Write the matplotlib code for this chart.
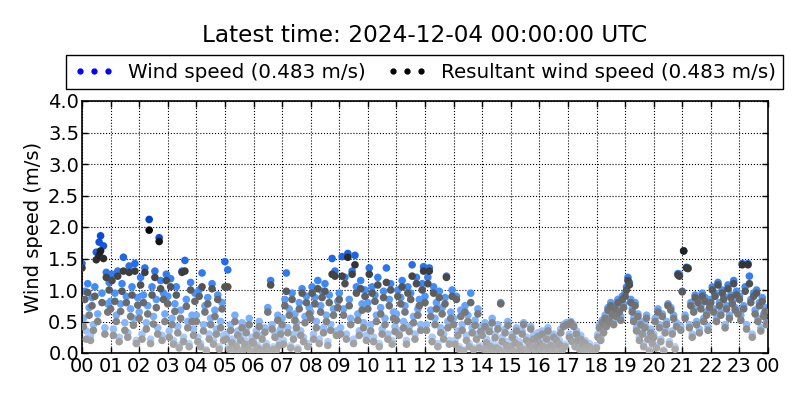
import numpy as np
import matplotlib
matplotlib.use("Agg")
import matplotlib.pyplot as plt
from matplotlib.colors import LinearSegmentedColormap
from matplotlib.lines import Line2D

# Wind speed (m/s), 20 samples per hour (every 3 minutes), hours 00..23, plus final sample at 24:00
wind_speed = [
    1.42, 0.55, 0.98, 0.35, 1.10, 0.72, 0.28, 0.88, 0.45, 1.05, 1.60, 0.62, 1.76, 1.86, 0.95, 1.70, 0.40, 1.28, 0.78, 1.12,
    0.82, 1.25, 0.38, 0.95, 0.60, 1.30, 0.25, 0.78, 1.10, 1.52, 0.48, 0.90, 0.32, 1.38, 0.70, 1.05, 0.55, 1.42, 0.20, 0.88,
    0.65, 1.20, 0.30, 0.92, 1.35, 0.48, 0.75, 2.12, 0.22, 1.05, 0.58, 1.30, 0.85, 0.40, 1.83, 1.15, 0.28, 0.95, 0.62, 1.25,
    0.90, 0.35, 1.18, 0.55, 0.20, 0.78, 1.05, 0.42, 0.12, 0.68, 1.30, 0.25, 1.47, 0.85, 0.50, 0.15, 1.12, 0.60, 0.38, 0.95,
    0.60, 0.25, 1.00, 0.15, 1.27, 0.45, 0.75, 0.05, 0.88, 0.30, 0.55, 1.10, 0.20, 0.68, 0.38, 0.92, 0.10, 0.50, 0.80, 0.28,
    1.45, 0.30, 1.32, 0.10, 0.45, 0.22, 0.05, 0.60, 0.15, 0.35, 0.02, 0.28, 0.48, 0.08, 0.20, 0.40, 0.12, 0.55, 0.03, 0.25,
    0.20, 0.05, 0.35, 0.12, 0.50, 0.02, 0.28, 0.08, 0.40, 0.15, 0.72, 0.03, 1.15, 0.45, 0.10, 0.32, 0.06, 0.60, 0.18, 0.38,
    0.55, 0.20, 0.85, 1.27, 0.40, 0.70, 0.12, 0.95, 0.30, 0.62, 0.48, 0.08, 0.80, 0.35, 1.02, 0.25, 0.58, 0.90, 0.15, 0.72,
    0.65, 1.05, 0.30, 0.88, 0.50, 1.15, 0.22, 0.75, 0.98, 0.40, 1.10, 0.60, 0.18, 0.92, 0.45, 1.50, 0.70, 1.30, 0.35, 0.82,
    0.95, 0.40, 1.53, 0.70, 1.20, 0.30, 1.58, 0.85, 0.55, 1.30, 0.22, 1.55, 1.05, 0.62, 0.35, 1.15, 0.78, 0.48, 1.00, 0.28,
    0.80, 1.35, 0.45, 1.05, 0.25, 0.92, 0.60, 1.20, 0.15, 0.72, 0.38, 0.98, 0.55, 1.35, 0.30, 0.85, 1.10, 0.20, 0.65, 0.42,
    0.62, 1.00, 0.35, 0.88, 1.15, 0.50, 0.75, 0.20, 1.05, 0.42, 0.95, 1.40, 0.58, 0.30, 1.20, 0.70, 0.85, 0.45, 1.10, 1.37,
    0.90, 0.45, 1.20, 1.35, 0.68, 0.25, 1.05, 0.55, 0.80, 0.15, 0.98, 0.40, 0.72, 0.30, 0.88, 1.22, 0.50, 0.20, 0.65, 1.00,
    0.55, 0.20, 0.90, 0.35, 0.10, 0.68, 0.45, 0.05, 0.75, 0.28, 0.60, 0.15, 0.95, 0.40, 0.08, 0.52, 0.30, 0.70, 0.12, 0.42,
    0.35, 0.10, 0.48, 0.22, 0.05, 0.40, 0.15, 0.55, 0.02, 0.30, 0.12, 0.45, 0.08, 0.80, 0.25, 0.03, 0.38, 0.18, 0.50, 0.06,
    0.15, 0.30, 0.05, 0.22, 0.40, 0.02, 0.18, 0.10, 0.35, 0.48, 0.08, 0.25, 0.03, 0.20, 0.42, 0.12, 0.28, 0.06, 0.16, 0.32,
    0.22, 0.08, 0.35, 0.15, 0.02, 0.28, 0.40, 0.10, 0.18, 0.05, 0.30, 0.12, 0.25, 0.03, 0.20, 0.38, 0.06, 0.45, 0.14, 0.48,
    0.48, 0.30, 0.50, 0.22, 0.45, 0.15, 0.35, 0.25, 0.10, 0.28, 0.18, 0.08, 0.20, 0.12, 0.05, 0.15, 0.03, 0.08, 0.02, 0.05,
    0.12, 0.30, 0.45, 0.25, 0.52, 0.38, 0.60, 0.48, 0.72, 0.55, 0.80, 0.65, 0.50, 0.75, 0.62, 0.85, 0.70, 0.58, 0.90, 0.78,
    0.95, 1.05, 1.20, 1.12, 0.85, 0.70, 0.55, 0.80, 0.40, 0.62, 0.25, 0.50, 0.35, 0.15, 0.45, 0.60, 0.28, 0.05, 0.38, 0.20,
    0.30, 0.55, 0.12, 0.70, 0.45, 0.22, 0.62, 0.05, 0.38, 0.50, 0.78, 0.18, 0.72, 0.35, 0.60, 0.10, 0.48, 1.26, 1.25, 0.42,
    0.98, 1.62, 0.60, 1.36, 1.35, 0.45, 0.80, 0.30, 0.70, 0.92, 0.50, 0.85, 0.38, 0.75, 0.95, 0.55, 0.88, 0.65, 0.42, 0.78,
    0.85, 1.05, 0.70, 0.95, 0.55, 1.12, 0.80, 0.65, 1.00, 0.90, 0.45, 0.75, 1.08, 0.60, 0.92, 0.82, 1.15, 0.72, 0.98, 0.68,
    0.90, 0.60, 1.42, 0.75, 1.05, 0.45, 1.42, 1.22, 0.85, 0.30, 0.95, 0.68, 1.00, 0.55, 0.80, 0.40, 0.88, 0.62, 0.72, 0.50,
    0.483,
]

# Resultant wind speed (m/s), same sampling
resultant_speed = [
    1.35, 0.42, 0.85, 0.22, 0.96, 0.60, 0.20, 0.75, 0.36, 0.90, 1.48, 0.50, 1.55, 1.62, 0.80, 1.50, 0.30, 1.20, 0.65, 1.00,
    0.70, 1.15, 0.28, 0.82, 0.50, 1.22, 0.18, 0.66, 0.98, 1.30, 0.36, 0.80, 0.25, 1.28, 0.58, 0.92, 0.44, 1.30, 0.15, 0.76,
    0.55, 1.08, 0.22, 0.80, 1.28, 0.38, 0.62, 1.95, 0.15, 0.92, 0.46, 1.20, 0.72, 0.30, 1.77, 1.02, 0.20, 0.85, 0.50, 1.15,
    0.78, 0.25, 1.05, 0.45, 0.14, 0.66, 0.92, 0.32, 0.08, 0.55, 1.28, 0.18, 1.30, 0.74, 0.40, 0.10, 1.00, 0.50, 0.28, 0.82,
    0.50, 0.18, 0.90, 0.10, 1.05, 0.35, 0.65, 0.03, 0.78, 0.22, 0.45, 1.02, 0.14, 0.58, 0.30, 0.85, 0.06, 0.40, 0.70, 0.20,
    1.05, 0.22, 1.05, 0.06, 0.36, 0.16, 0.02, 0.50, 0.10, 0.28, 0.01, 0.20, 0.40, 0.05, 0.14, 0.32, 0.08, 0.45, 0.02, 0.18,
    0.15, 0.03, 0.28, 0.08, 0.42, 0.01, 0.22, 0.05, 0.33, 0.10, 0.65, 0.02, 1.08, 0.38, 0.06, 0.25, 0.04, 0.52, 0.12, 0.30,
    0.45, 0.14, 0.75, 0.98, 0.32, 0.60, 0.08, 0.85, 0.22, 0.52, 0.40, 0.05, 0.70, 0.28, 0.95, 0.18, 0.48, 0.80, 0.10, 0.62,
    0.55, 0.95, 0.22, 0.78, 0.40, 1.02, 0.15, 0.65, 0.88, 0.32, 0.98, 0.50, 0.12, 0.80, 0.36, 1.25, 0.60, 1.22, 0.28, 0.72,
    0.85, 0.30, 1.22, 0.60, 1.10, 0.22, 1.52, 0.75, 0.45, 1.25, 0.15, 1.40, 0.95, 0.52, 0.28, 1.02, 0.68, 0.40, 0.90, 0.20,
    0.70, 1.25, 0.35, 0.95, 0.18, 0.82, 0.50, 1.08, 0.10, 0.62, 0.30, 0.88, 0.45, 1.12, 0.22, 0.75, 1.00, 0.14, 0.55, 0.34,
    0.52, 0.90, 0.28, 0.78, 1.05, 0.40, 0.65, 0.14, 0.95, 0.34, 0.85, 1.22, 0.48, 0.22, 1.10, 0.60, 0.75, 0.36, 1.00, 1.30,
    0.80, 0.36, 1.10, 1.30, 0.58, 0.18, 0.95, 0.45, 0.70, 0.10, 0.88, 0.32, 0.62, 0.22, 0.78, 1.20, 0.40, 0.14, 0.55, 0.90,
    0.45, 0.14, 0.85, 0.28, 0.06, 0.58, 0.36, 0.03, 0.65, 0.20, 0.50, 0.10, 0.80, 0.32, 0.05, 0.44, 0.22, 0.62, 0.08, 0.34,
    0.28, 0.06, 0.42, 0.16, 0.03, 0.34, 0.10, 0.48, 0.01, 0.24, 0.08, 0.38, 0.05, 0.78, 0.18, 0.02, 0.32, 0.12, 0.44, 0.04,
    0.10, 0.25, 0.03, 0.16, 0.35, 0.01, 0.12, 0.06, 0.30, 0.45, 0.05, 0.20, 0.02, 0.14, 0.38, 0.08, 0.22, 0.04, 0.11, 0.26,
    0.16, 0.05, 0.30, 0.10, 0.01, 0.22, 0.35, 0.06, 0.12, 0.03, 0.25, 0.08, 0.20, 0.02, 0.14, 0.32, 0.04, 0.42, 0.10, 0.45,
    0.45, 0.25, 0.48, 0.18, 0.42, 0.10, 0.30, 0.20, 0.06, 0.22, 0.14, 0.05, 0.16, 0.08, 0.03, 0.10, 0.02, 0.05, 0.01, 0.03,
    0.08, 0.25, 0.40, 0.20, 0.48, 0.32, 0.55, 0.42, 0.68, 0.50, 0.75, 0.60, 0.45, 0.70, 0.58, 0.80, 0.65, 0.52, 0.85, 0.72,
    0.90, 1.00, 1.15, 1.08, 0.80, 0.65, 0.50, 0.75, 0.35, 0.58, 0.20, 0.45, 0.30, 0.10, 0.40, 0.55, 0.22, 0.03, 0.32, 0.15,
    0.25, 0.50, 0.08, 0.65, 0.40, 0.18, 0.58, 0.03, 0.32, 0.45, 0.75, 0.14, 0.68, 0.30, 0.55, 0.06, 0.42, 1.24, 1.22, 0.36,
    0.97, 1.62, 0.55, 1.35, 1.34, 0.40, 0.75, 0.25, 0.65, 0.88, 0.45, 0.80, 0.32, 0.70, 0.90, 0.50, 0.82, 0.60, 0.36, 0.72,
    0.80, 1.00, 0.65, 0.90, 0.50, 1.08, 0.75, 0.60, 0.95, 0.85, 0.40, 0.70, 1.02, 0.55, 0.88, 0.78, 1.10, 0.68, 0.92, 0.62,
    0.85, 0.52, 1.40, 0.70, 0.98, 0.38, 1.40, 1.10, 0.80, 0.25, 0.90, 0.62, 0.95, 0.50, 0.75, 0.35, 0.82, 0.58, 0.66, 0.45,
    0.483,
]

samples_per_hour = 20
hour_ticks = list(range(0, 25))
hour_labels = ["%02d" % (h % 24) for h in hour_ticks]
y_ticks = [0.0, 0.5, 1.0, 1.5, 2.0, 2.5, 3.0, 3.5, 4.0]
title_text = "Latest time: 2024-12-04 00:00:00 UTC"
latest_wind = 0.483
latest_resultant = 0.483

times = np.arange(len(wind_speed)) / samples_per_hour

fig = plt.figure(figsize=(8, 4), dpi=100)
ax = fig.add_axes([0.1025, 0.1175, 0.8575, 0.63])

blue_cmap = LinearSegmentedColormap.from_list("b", ["#c8dcff", "#3f8fff", "#0040d0"])
gray_cmap = LinearSegmentedColormap.from_list("g", ["#b0b0b0", "#000000"])

ax.scatter(times, wind_speed, c=wind_speed, cmap=blue_cmap, vmin=0, vmax=2.0,
           s=30, edgecolors="none", zorder=2)
ax.scatter(times, resultant_speed, c=resultant_speed, cmap=gray_cmap, vmin=0, vmax=2.0,
           s=30, edgecolors="none", zorder=3)

ax.set_xlim(0, 24)
ax.set_ylim(0, 4)
ax.set_xticks(hour_ticks)
ax.set_xticklabels(hour_labels)
ax.set_yticks(y_ticks)
ax.set_yticklabels(["%.1f" % v for v in y_ticks])
ax.tick_params(direction="in", length=4, width=1, top=True, right=True,
               labelsize=14, pad=2)
ax.tick_params(axis="x", pad=3)
ax.grid(True, color="black", linestyle=":", linewidth=0.8)
ax.set_axisbelow(True)
for sp in ax.spines.values():
    sp.set_linewidth(1.2)
ax.set_ylabel("Wind speed (m/s)", fontsize=14, labelpad=4)

fig.text(0.531, 0.912, title_text, ha="center", va="center", fontsize=16.7)

h1 = Line2D([], [], linestyle="none", marker="o", color="#0000ff", markersize=3.5)
h2 = Line2D([], [], linestyle="none", marker="o", color="black", markersize=3.5)
leg = fig.legend([h1, h2],
                 ["Wind speed (%.3f m/s)" % latest_wind,
                  "Resultant wind speed (%.3f m/s)" % latest_resultant],
                 loc="center", bbox_to_anchor=(0.531, 0.82), ncol=2, fontsize=14.3,
                 numpoints=3, frameon=True, fancybox=False, framealpha=1,
                 edgecolor="black", handlelength=2.0, handletextpad=0.7,
                 columnspacing=1.1, borderpad=0.38, borderaxespad=0)
leg.get_frame().set_linewidth(1.0)

fig.savefig("out.png", dpi=100)
